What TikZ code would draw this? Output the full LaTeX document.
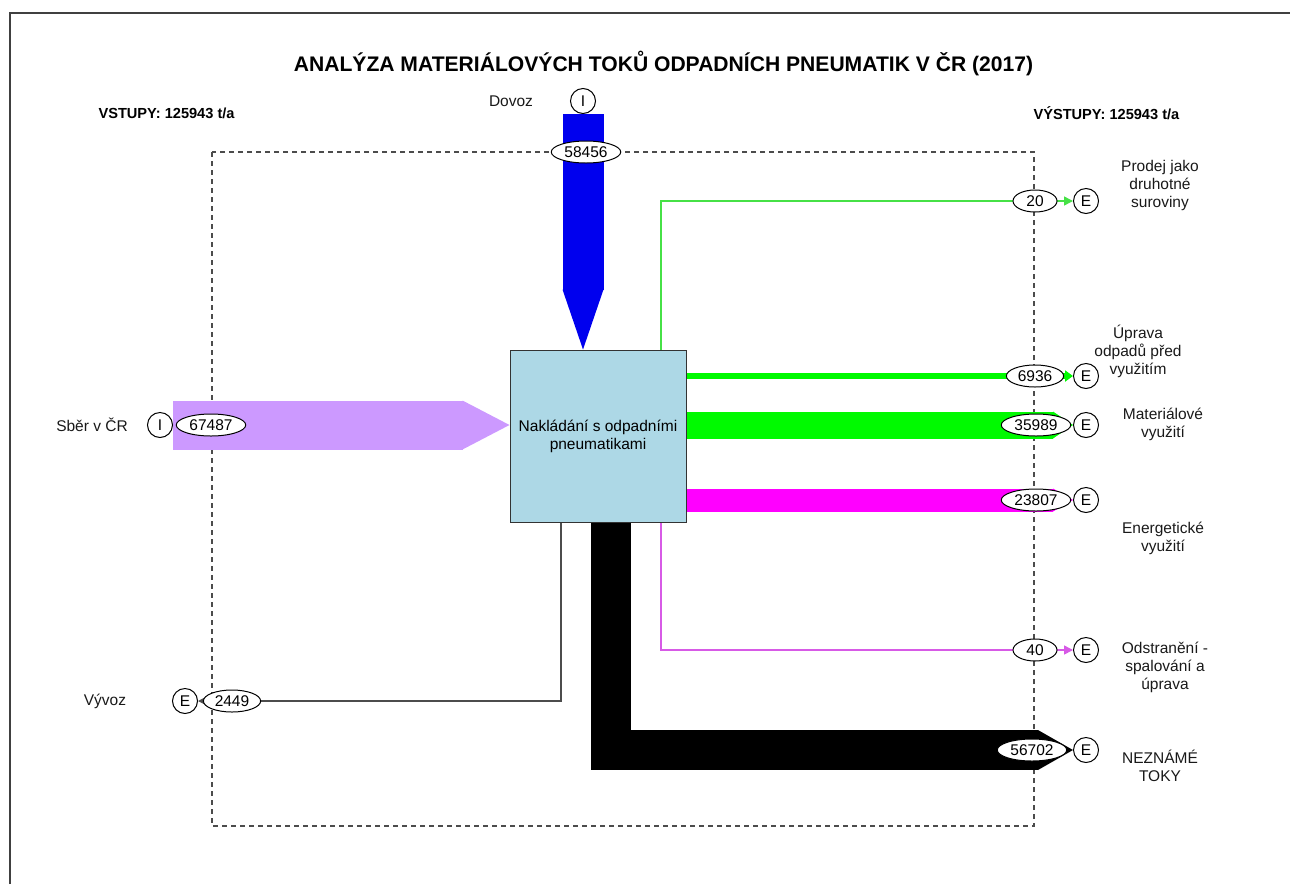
\documentclass[tikz,border=0pt]{standalone}
\usepackage{fontspec}
\setmainfont{Liberation Sans}
\usepackage{xcolor}
\usepackage{tikz}
\usetikzlibrary{positioning,arrows.meta,shapes.geometric,backgrounds}

\definecolor{flowblue}{RGB}{0,0,238}
\definecolor{flowpurple}{RGB}{204,153,255}
\definecolor{flowgreen}{RGB}{0,250,0}
\definecolor{thingreen}{RGB}{70,225,70}
\definecolor{flowmagenta}{RGB}{255,0,255}
\definecolor{thinmagenta}{RGB}{215,90,230}
\definecolor{boxblue}{RGB}{173,216,230}

\tikzset{
	proc/.style={draw=black!80, fill=boxblue, line width=1pt, minimum width=176pt, minimum height=172pt, align=center},
	val/.style={ellipse, draw, fill=white, line width=1pt, inner xsep=3pt, inner ysep=0pt, minimum width=44pt, minimum height=22pt},
	io/.style={circle, draw, fill=white, line width=1pt, minimum size=25pt, inner sep=0pt},
	lbl/.style={align=center, text=black!90},
	head/.style={font=\bfseries\fontsize{14.6}{17}\selectfont, anchor=west},
	flow/.style={line cap=butt},
	bar/.style={flow, line width=#1, -{Triangle[length=20pt,width=0pt 1,line width=0pt]}},
	thin/.style={line width=1.5pt, -{Triangle[length=9pt,width=9pt]}}
}

\begin{document}
\begin{tikzpicture}[x=1pt,y=-1pt, font=\fontsize{15.5}{18}\selectfont]
	\useasboundingbox (0,0) rectangle (1290,884);
	\draw[black!75, line width=1.5pt] (10,884) -- (10,13) -- (1290,13);

	\node[font=\bfseries\fontsize{21.1}{24}\selectfont] (title) at (663.5,63) {ANALÝZA MATERIÁLOVÝCH TOKŮ ODPADNÍCH PNEUMATIK V ČR (2017)};
	\node[head] (inputs) at (95,113) {VSTUPY: 125943 t/a};
	\node[head] (outputs) at (1030,113) {VÝSTUPY: 125943 t/a};

	% process
	\node[proc] (box) at (598,436) {Nakládání s odpadními\\pneumatikami};

	% imports
	\node[io] (dovozI) at (583,101) {I};
	\node[lbl] (dovoz) at (511,101) {Dovoz};
	\node[io] (sberI) at (160,425) {I};
	\node[lbl] (sber) at (92,425) {Sběr v ČR};

	% exports
	\node[io] (prodejE) at (1086,201) {E};
	\node[io] (upravaE) at (1086,376) {E};
	\node[io] (matE) at (1086,425) {E};
	\node[io] (energE) at (1086,500) {E};
	\node[io] (odstrE) at (1086,650) {E};
	\node[io] (neznE) at (1086,750) {E};
	\node[io] (vyvozE) at (185,701) {E};

	\node[lbl] (prodej) at (1160,185) {Prodej jako\\druhotné\\suroviny};
	\node[lbl] (uprava) at (1138,351) {Úprava\\odpadů před\\využitím};
	\node[lbl] (mat) at (1163,424) {Materiálové\\využití};
	\node[lbl] (energ) at (1163,538) {Energetické\\využití};
	\node[lbl] (odstr) at (1165,667) {Odstranění -\\spalování a\\úprava};
	\node[lbl] (nezn) at (1160,766) {NEZNÁMÉ\\TOKY};
	\node[lbl] (vyvoz) at (105,701) {Vývoz};

	% values on the system boundary
	\node[val] (v58456) at (586,152) {58456};
	\node[val] (v67487) at (211,425) {67487};
	\node[val] (v20) at (1035,201) {20};
	\node[val] (v6936) at (1035,376) {6936};
	\node[val] (v35989) at (1036,425) {35989};
	\node[val] (v23807) at (1036,500) {23807};
	\node[val] (v40) at (1035,650) {40};
	\node[val] (v56702) at (1032,750) {56702};
	\node[val] (v2449) at (232,701) {2449};

	\begin{scope}[on background layer]
		\draw[black!70, line width=1.2pt, dash pattern=on 5pt off 4pt] (212,152) rectangle (1034,826);

		\draw[flow, flowblue, line width=41pt, -{Triangle[length=60pt,width=0pt 1,line width=0pt]}] (dovozI.south) -- (dovozI.south |- box.north);
		\draw[flow, flowpurple, line width=49pt, -{Triangle[length=47pt,width=0pt 1,line width=0pt]}] (sberI.east) -- (sberI.east -| box.west);

		\draw[thingreen, thin] ([xshift=63pt]box.north) |- (prodejE);
		\draw[flowgreen, flow, line width=6pt, -{Triangle[length=8pt,width=11pt]}] (box.east |- upravaE) -- (upravaE);
		\draw[flowgreen, bar=27pt] (box.east |- matE) -- (matE);
		\draw[flowmagenta, bar=23pt] (box.east |- energE) -- (energE);
		\draw[thinmagenta, thin] ([xshift=63pt]box.south) |- (odstrE);
		\draw[black, flow, line width=40pt, -{Triangle[length=35pt,width=0pt 1,line width=0pt]}] ([xshift=13pt]box.south) |- (neznE);
		\draw[black!70, line width=1.2pt, -{Triangle[length=8pt,width=8pt]}] ([xshift=-37pt]box.south) |- (vyvozE);
	\end{scope}
\end{tikzpicture}
\end{document}
